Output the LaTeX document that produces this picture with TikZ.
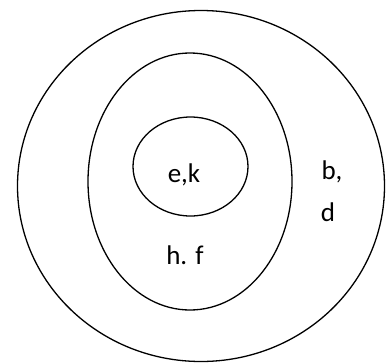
\documentclass[tikz,border=0pt]{standalone}
\usepackage{fontspec}
\setmainfont{Carlito}
\usetikzlibrary{shapes.geometric}
\tikzset{
  setring/.style={ellipse, draw=black, line width=1.3pt, inner sep=0pt},
  setlabel/.style={font=\fontsize{27}{32}\selectfont, inner sep=0pt, anchor=center}
}

\begin{document}
\begin{tikzpicture}[x=1pt,y=-1pt]
\useasboundingbox (0,0) rectangle (386,362);
\node[setring, minimum width=367pt, minimum height=351pt] (outer) at (201,186) {};
\node[setring, minimum width=204pt, minimum height=257pt] (middle) at (190,181.5) {};
\node[setring, minimum width=115pt, minimum height=99pt] (inner) at (190.5,166.5) {};
\node[setlabel] (ek) at (184,175) {e,k};
\node[setlabel] (hf) at (185,255) {h. f};
\node[setlabel] (b) at (332,172) {b,};
\node[setlabel] (d) at (328,212) {d};
\end{tikzpicture}
\end{document}
